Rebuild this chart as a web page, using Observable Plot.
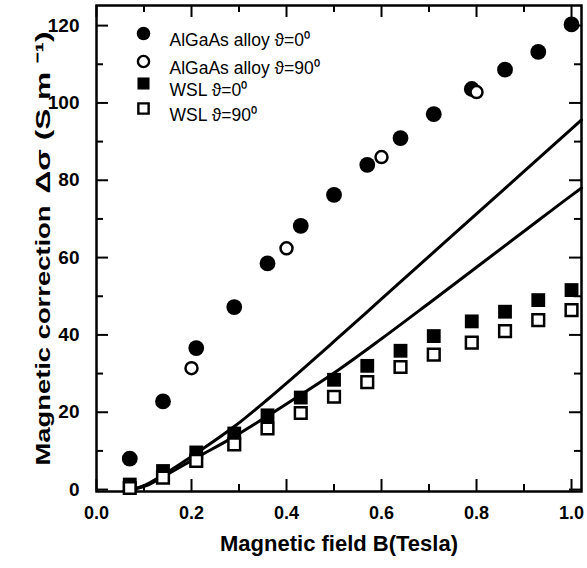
<!DOCTYPE html>
<html><head><meta charset="utf-8">
<script src="https://cdn.jsdelivr.net/npm/d3@7"></script>
<script src="https://cdn.jsdelivr.net/npm/@observablehq/plot@0.6"></script>
<style>
body{margin:0;background:#fff;}
#chart svg{font-family:"Liberation Sans",Arial,Helvetica,sans-serif;overflow:visible;}
</style>
</head><body><div id="chart"></div>
<script>
// ---- data ----
const fieldB = [0.07,0.14,0.21,0.29,0.36,0.43,0.50,0.57,0.64,0.71,0.79,0.86,0.93,1.00];
const alloy0 = [8.0,22.8,36.6,47.2,58.5,68.2,76.2,84.0,90.9,97.1,103.6,108.6,113.2,120.3];
const fieldB90 = [0.20,0.40,0.60,0.80];
const alloy90 = [31.4,62.4,86.0,102.8];
const wsl0 = [1.3,4.8,9.6,14.5,19.2,23.8,28.4,32.0,35.9,39.7,43.5,46.0,49.0,51.6];
const wsl90 = [0.4,3.1,7.4,11.7,15.8,19.8,24.0,27.8,31.7,34.9,38.0,41.0,43.8,46.4];
const fitAx = [0.075,0.10,0.14,0.21,0.29,0.36,0.43,0.50,0.60,0.70,0.80,0.90,1.00,1.021];
const fitAy = [0.0,1.0,3.8,9.4,16.3,23.3,30.7,38.3,49.3,60.3,71.3,82.3,93.3,95.6];
const fitBx = [0.075,0.105,0.14,0.21,0.29,0.36,0.43,0.51,0.60,0.70,0.80,0.90,1.00,1.021];
const fitBy = [0.0,1.0,3.3,8.2,13.7,19.0,24.5,31.0,39.0,48.2,57.5,66.8,76.1,78.0];
const xMajor = [0,0.2,0.4,0.6,0.8,1.0];
const xMinor = [0.1,0.3,0.5,0.7,0.9];
const yMajor = [0,20,40,60,80,100,120];
const yMinor = [10,30,50,70,90,110];
const legendLabels = ["AlGaAs alloy \u03D1=0\u2070","AlGaAs alloy \u03D1=90\u2070","WSL \u03D1=0\u2070","WSL \u03D1=90\u2070"];
const xLabel = "Magnetic field B(Tesla)";
const yLabelA = "Magnetic correction";
const yLabelB = "\u0394\u03C3 (S m \u207B\u00B9)";

// ---- layout ----
const W = 587, H = 568, mL = 96, mR = 6, mT = 5, mB = 77;
const iW = W - mL - mR, iH = H - mT - mB;
const majL = 12, minL = 7;
const yTitleParts = [
  {text: yLabelA, dy: 87, length: 260},
  {text: yLabelB, dy: -136, length: 162}
];

const pts = (xs, ys) => xs.map((x, i) => ({x, y: ys[i]}));
const A0 = pts(fieldB, alloy0), A90 = pts(fieldB90, alloy90);
const S0 = pts(fieldB, wsl0), S90 = pts(fieldB, wsl90);
const FA = pts(fitAx, fitAy), FB = pts(fitBx, fitBy);
const id = d => d;

const legendRows = [
  {dy: 28, symbol: "circle", fill: "black", stroke: "none", r: 6.8, sw: 0},
  {dy: 56, symbol: "circle", fill: "white", stroke: "black", r: 5.6, sw: 2.4},
  {dy: 78, symbol: "square", fill: "black", stroke: "none", r: 6.8, sw: 0},
  {dy: 103, symbol: "square", fill: "white", stroke: "black", r: 5.8, sw: 2.4}
];

const marks = [
  Plot.frame({stroke: "black", strokeWidth: 2.5}),
  // inward ticks on all four sides
  Plot.tickX(xMajor, {x: id, insetTop: iH - majL, strokeWidth: 2}),
  Plot.tickX(xMinor, {x: id, insetTop: iH - minL, strokeWidth: 2}),
  Plot.tickX(xMajor, {x: id, insetBottom: iH - majL, strokeWidth: 2}),
  Plot.tickX(xMinor, {x: id, insetBottom: iH - minL, strokeWidth: 2}),
  Plot.tickY(yMajor, {y: id, insetRight: iW - majL, strokeWidth: 2}),
  Plot.tickY(yMinor, {y: id, insetRight: iW - minL, strokeWidth: 2}),
  Plot.tickY(yMajor, {y: id, insetLeft: iW - majL, strokeWidth: 2}),
  Plot.tickY(yMinor, {y: id, insetLeft: iW - minL, strokeWidth: 2}),
  Plot.axisX({ticks: xMajor, tickSize: 0, tickPadding: 15, tickFormat: d3.format(".1f"), fontSize: 18, fontWeight: "bold", label: null}),
  Plot.axisY({ticks: yMajor, tickSize: 0, tickPadding: 17, fontSize: 19, fontWeight: "bold", label: null}),
  // fit curves
  Plot.line(FA, {x: "x", y: "y", stroke: "black", strokeWidth: 3, curve: "monotone-x"}),
  Plot.line(FB, {x: "x", y: "y", stroke: "black", strokeWidth: 3, curve: "monotone-x"}),
  // data
  Plot.dot(S0, {x: "x", y: "y", symbol: "square", r: 7.8, fill: "black"}),
  Plot.dot(S90, {x: "x", y: "y", symbol: "square", r: 6.6, fill: "white", stroke: "black", strokeWidth: 2.5}),
  Plot.dot(A0, {x: "x", y: "y", symbol: "circle", r: 7.9, fill: "black"}),
  Plot.dot(A90, {x: "x", y: "y", symbol: "circle", r: 6.0, fill: "white", stroke: "black", strokeWidth: 2.5}),
  // axis titles
  Plot.text([xLabel], {text: id, frameAnchor: "bottom", dy: 59, lineAnchor: "bottom", fontSize: 22, fontWeight: "bold"})
];
yTitleParts.forEach(p => {
  marks.push(Plot.text([p.text], {text: id, frameAnchor: "left", dx: -53, dy: p.dy, rotate: -90, fontSize: 21, fontWeight: "bold"}));
});
legendRows.forEach((row, i) => {
  marks.push(Plot.dot([legendLabels[i]], {x: null, y: null, frameAnchor: "top-left", dx: 47, dy: row.dy,
    symbol: row.symbol, r: row.r, fill: row.fill, stroke: row.stroke, strokeWidth: row.sw}));
  marks.push(Plot.text([legendLabels[i]], {text: id, frameAnchor: "top-left", dx: 73, dy: row.dy,
    textAnchor: "start", fontSize: 17.5}));
});

const chart = Plot.plot({
  width: W, height: H,
  marginLeft: mL, marginRight: mR, marginTop: mT, marginBottom: mB,
  x: {domain: [0, 1.021], axis: null},
  y: {domain: [-0.5, 125.2], axis: null},
  marks
});
document.getElementById("chart").appendChild(chart);
// the reference's y title is drawn elongated along its length
chart.querySelectorAll("text").forEach(t => {
  const part = yTitleParts.find(p => p.text === t.textContent);
  if (part) {
    t.setAttribute("text-anchor", "start");
    t.setAttribute("x", -part.length / 2);
    t.setAttribute("textLength", part.length);
    t.setAttribute("lengthAdjust", "spacingAndGlyphs");
  }
});
</script>
</body></html>
